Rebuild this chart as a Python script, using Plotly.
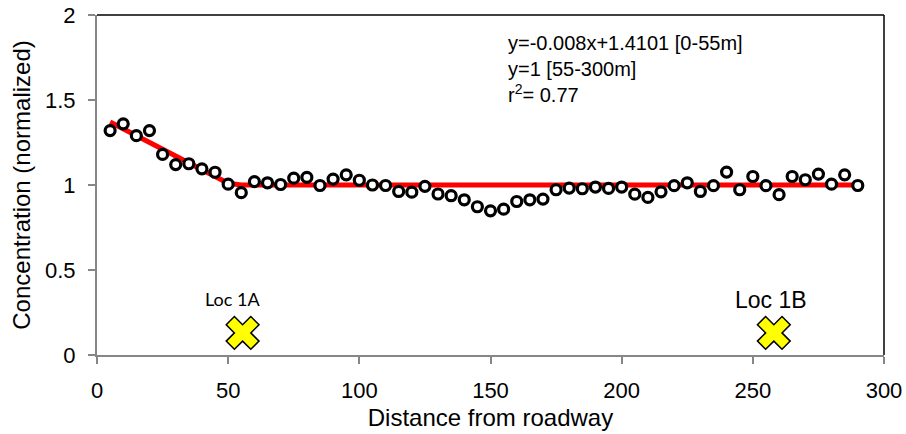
import plotly.graph_objects as go

# Measured concentration (normalized) versus distance from the roadway
distance_m = [5, 10, 15, 20, 25, 30, 35, 40, 45, 50,
              55, 60, 65, 70, 75, 80, 85, 90, 95, 100,
              105, 110, 115, 120, 125, 130, 135, 140, 145, 150,
              155, 160, 165, 170, 175, 180, 185, 190, 195, 200,
              205, 210, 215, 220, 225, 230, 235, 240, 245, 250,
              255, 260, 265, 270, 275, 280, 285, 290]
concentration = [1.32, 1.36, 1.29, 1.32, 1.18, 1.12, 1.125, 1.095, 1.075, 1.005,
                 0.955, 1.02, 1.013, 1.003, 1.04, 1.045, 0.997, 1.035, 1.06, 1.028,
                 1.0, 0.997, 0.962, 0.958, 0.992, 0.947, 0.937, 0.913, 0.872, 0.848,
                 0.858, 0.903, 0.913, 0.917, 0.972, 0.982, 0.978, 0.988, 0.98, 0.988,
                 0.946, 0.927, 0.96, 0.996, 1.013, 0.962, 0.996, 1.076, 0.972, 1.05,
                 0.996, 0.943, 1.05, 1.031, 1.064, 1.005, 1.06, 0.997]

# Piecewise fit: y = -0.008x + 1.4101 up to the break, y = 1 beyond it
fit_x = [5, 50, 55, 290]
fit_y = [1.3701, 1.0101, 1.0, 1.0]

# Sampling locations
loc_names = ["Loc 1A", "Loc 1B"]
loc_x = [55.5, 258]
loc_y = [0.13, 0.13]

fit_text = "y=-0.008x+1.4101 [0-55m]<br>y=1 [55-300m]<br>r<sup>2</sup>= 0.77"

x_ticks = [0, 50, 100, 150, 200, 250, 300]
y_ticks = [0, 0.5, 1, 1.5, 2]

FONT = "Arial, Liberation Sans, sans-serif"
AXIS_GREY = "#868686"

fig = go.Figure()

fig.add_trace(go.Scatter(
    x=fit_x, y=fit_y, mode="lines",
    line=dict(color="#FF0000", width=5),
    hoverinfo="skip", showlegend=False,
))

fig.add_trace(go.Scatter(
    x=distance_m, y=concentration, mode="markers",
    marker=dict(symbol="circle", size=10, color="white",
                line=dict(color="black", width=3.2)),
    showlegend=False, cliponaxis=False,
))

fig.add_trace(go.Scatter(
    x=loc_x, y=loc_y, mode="markers",
    marker=dict(symbol="x", size=29, color="#FFFF00",
                line=dict(color="black", width=1.5)),
    showlegend=False, cliponaxis=False,
))

# Location labels
fig.add_annotation(x=loc_x[0] - 4, y=0.33, xref="x", yref="y",
                   text=loc_names[0], showarrow=False,
                   font=dict(family="Lato, Carlito, sans-serif", size=18, color="black"))
fig.add_annotation(x=loc_x[1] - 1, y=0.325, xref="x", yref="y",
                   text=loc_names[1], showarrow=False,
                   font=dict(family=FONT, size=23, color="black"))

# Fit equation block
fig.add_annotation(x=156, y=1.91, xref="x", yref="y",
                   xanchor="left", yanchor="top", align="left",
                   text=fit_text, showarrow=False,
                   font=dict(family=FONT, size=20, color="black"))

# Black frame on the top and right edges of the plot area
fig.add_shape(type="line", xref="paper", yref="paper", x0=0, x1=1, y0=1, y1=1,
              line=dict(color="black", width=1.5))
fig.add_shape(type="line", xref="paper", yref="paper", x0=1, x1=1, y0=0, y1=1,
              line=dict(color="black", width=1.5))

fig.update_xaxes(
    range=[0, 300], tickmode="array", tickvals=x_ticks,
    automargin=False,
    showgrid=False, zeroline=False,
    showline=True, linecolor=AXIS_GREY, linewidth=2,
    ticks="outside", ticklen=7, tickwidth=1.5, tickcolor=AXIS_GREY,
    ticklabelstandoff=8,
    tickfont=dict(family=FONT, size=22, color="black"),
    title=dict(text="Distance from roadway", standoff=7,
               font=dict(family=FONT, size=24, color="black")),
)
fig.update_yaxes(
    range=[0, 2], tickmode="array", tickvals=y_ticks,
    automargin=False,
    showgrid=False, zeroline=False,
    showline=True, linecolor=AXIS_GREY, linewidth=2,
    ticks="outside", ticklen=7, tickwidth=1.5, tickcolor=AXIS_GREY,
    ticklabelstandoff=8,
    tickfont=dict(family=FONT, size=22, color="black"),
    title=dict(text="Concentration (normalized)", standoff=8,
               font=dict(family=FONT, size=24, color="black")),
)

fig.update_layout(
    width=906, height=434,
    margin=dict(l=97, r=22, t=15, b=79),
    paper_bgcolor="white", plot_bgcolor="white",
    showlegend=False,
)

fig.write_html("out.html")
